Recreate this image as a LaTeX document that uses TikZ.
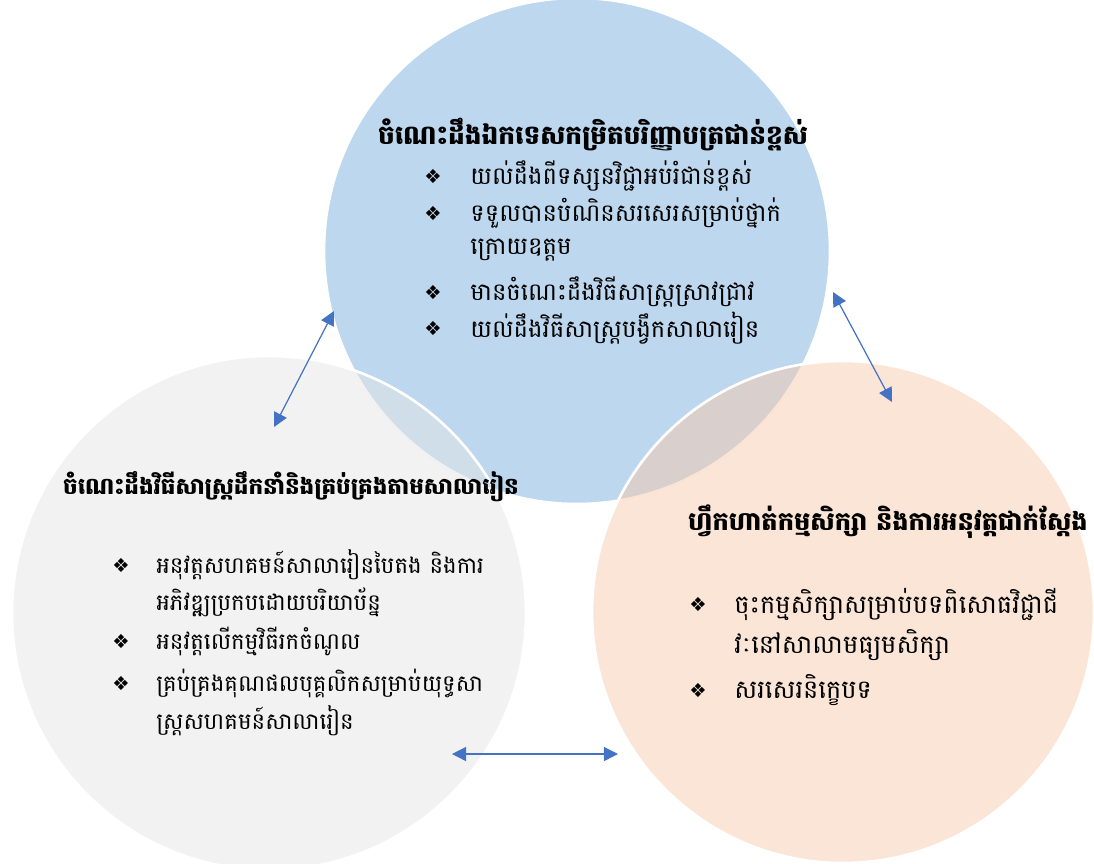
\documentclass[tikz,border=0pt]{standalone}
\usepackage{fontspec}
\newfontfamily\kh[Script=Khmer]{Battambang}
\newfontfamily\sym{DejaVu Sans}
\usetikzlibrary{arrows.meta}
\definecolor{topblue}{HTML}{7BAFDD}
\definecolor{leftgray}{HTML}{E5E5E5}
\definecolor{rightpeach}{HTML}{F7CBAD}
\definecolor{arrowblue}{HTML}{4472C4}

\begin{document}
\begin{tikzpicture}[x=0.02cm,y=-0.02cm,
    circ/.style={draw=white, line width=1.5pt, fill opacity=0.5},
    title/.style={font=\kh\bfseries\fontsize{#1}{18}\selectfont, inner sep=0pt},
    line/.style={font=\kh\fontsize{#1}{18}\selectfont, anchor=west, inner sep=0pt},
    bul/.style={font=\sym\fontsize{11}{12}\selectfont, inner sep=0pt},
    link/.style={arrowblue, line width=0.7pt, {Triangle[length=8pt,width=8pt]}-{Triangle[length=8pt,width=8pt]}}]
    \useasboundingbox (0,0) rectangle (1094,863);

    % Three circles
    \filldraw[circ, fill=topblue] (577,251) circle (253);
    \filldraw[circ, fill=leftgray] (269,613) circle (257);
    \filldraw[circ, fill=rightpeach] (843,612) circle (251);

    % Top circle
    \node[title=15] (toptitle) at (593,135) {ចំណេះដឹងឯកទេសកម្រិតបរិញ្ញាបត្រជាន់ខ្ពស់};
    \foreach \y in {176,213,292,328} \node[bul] at (433,\y) {❖};
    \node[line=13.8] (top1) at (470,176) {យល់ដឹងពីទស្សនវិជ្ជាអប់រំជាន់ខ្ពស់};
    \node[line=13.8] (top2) at (470,213) {ទទួលបានបំណិនសរសេរសម្រាប់ថ្នាក់};
    \node[line=13.8] (top2b) at (470,250) {ក្រោយឧត្តម};
    \node[line=13.8] (top3) at (470,292) {មានចំណេះដឹងវិធីសាស្ត្រស្រាវជ្រាវ};
    \node[line=13.8] (top4) at (470,328) {យល់ដឹងវិធីសាស្ត្របង្វឹកសាលារៀន};

    % Left circle
    \node[title=13.1] (lefttitle) at (291,487) {ចំណេះដឹងវិធីសាស្ត្រដឹកនាំនិងគ្រប់គ្រងតាមសាលារៀន};
    \foreach \y in {565,641,683} \node[bul] at (121,\y) {❖};
    \node[line=13] (left1) at (156,565) {អនុវត្តសហគមន៍សាលារៀនបៃតង និងការ};
    \node[line=13] (left1b) at (156,602) {អភិវឌ្ឍប្រកបដោយបរិយាប័ន្ន};
    \node[line=13] (left2) at (156,641) {អនុវត្តលើកម្មវិធីរកចំណូល};
    \node[line=13] (left3) at (156,683) {គ្រប់គ្រងគុណផលបុគ្គលិកសម្រាប់យុទ្ធសា};
    \node[line=13] (left3b) at (156,721) {ស្ត្រសហគមន៍សាលារៀន};

    % Right circle
    \node[title=14.6] (righttitle) at (888,522) {ហ្វឹកហាត់កម្មសិក្សា និងការអនុវត្តជាក់ស្តែង};
    \foreach \y in {604,690} \node[bul] at (698,\y) {❖};
    \node[line=14.6] (right1) at (734,604) {ចុះកម្មសិក្សាសម្រាប់បទពិសោធវិជ្ជាជី};
    \node[line=14.6] (right1b) at (734,645) {វៈនៅសាលាមធ្យមសិក្សា};
    \node[line=14.6] (right2) at (734,690) {សរសេរនិក្ខេបទ};

    % Arrows between the circles
    \coordinate (tl) at (334,311);
    \coordinate (lt) at (274,427);
    \coordinate (tr) at (833,292);
    \coordinate (rt) at (892,402);
    \coordinate (lr) at (452,754);
    \coordinate (rl) at (618,754);
    \draw[link] (tl) -- (lt);
    \draw[link] (tr) -- (rt);
    \draw[link] (lr) -- (rl);
\end{tikzpicture}
\end{document}
